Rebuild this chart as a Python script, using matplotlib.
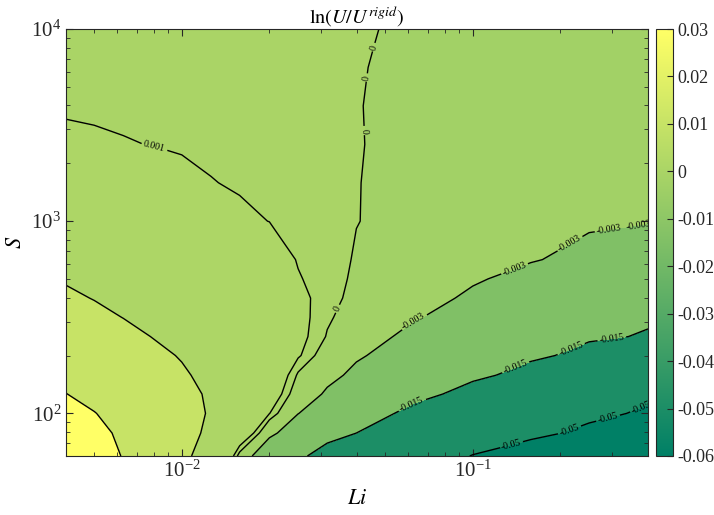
import matplotlib.pyplot as plt
import numpy as np
from matplotlib.colors import Normalize
from matplotlib.cm import ScalarMappable

plt.rcParams['font.family'] = ['Liberation Serif', 'DejaVu Serif']
plt.rcParams['mathtext.fontset'] = 'stix'
plt.rcParams['axes.unicode_minus'] = False

Li = [0.004, 0.005, 0.0063, 0.0079, 0.01, 0.0126, 0.0158, 0.02, 0.0251, 0.0316,
      0.0398, 0.0631, 0.1, 0.158, 0.251, 0.4]
S = [60, 79, 100, 126, 158, 200, 251, 316, 398, 501, 631, 1000, 1585, 2512, 3981, 6310, 10000]

# one row per S value (bottom to top), one column per Li value
lnU = [
    [0.0300, 0.0246, 0.0195, 0.0156, 0.0117, 0.0062, -0.0006, -0.0067, -0.0130, -0.0198, -0.0264, -0.0400, -0.0507, -0.0550, -0.0580, -0.0600],
    [0.0262, 0.0221, 0.0185, 0.0154, 0.0123, 0.0086, 0.0033, -0.0019, -0.0062, -0.0107, -0.0150, -0.0259, -0.0368, -0.0477, -0.0526, -0.0558],
    [0.0232, 0.0202, 0.0175, 0.0149, 0.0123, 0.0094, 0.0052, 0.00105, -0.0029, -0.0066, -0.0102, -0.0182, -0.0278, -0.0374, -0.0472, -0.0520],
    [0.0201, 0.0180, 0.0159, 0.0137, 0.0116, 0.0092, 0.0058, 0.0024, -0.0011, -0.0035, -0.0063, -0.0119, -0.0192, -0.0285, -0.0381, -0.0474],
    [0.0182, 0.0163, 0.0145, 0.0126, 0.0107, 0.0083, 0.0057, 0.0030, -0.0002, -0.0020, -0.0039, -0.0083, -0.0127, -0.0193, -0.0283, -0.0371],
    [0.0164, 0.0147, 0.0130, 0.0113, 0.0096, 0.0075, 0.0054, 0.0033, 0.0012, -0.0010, -0.0025, -0.0059, -0.0094, -0.0129, -0.0187, -0.0274],
    [0.0146, 0.0130, 0.0115, 0.0099, 0.0082, 0.0066, 0.0049, 0.0032, 0.0015, -0.0001, -0.0014, -0.0042, -0.0072, -0.0103, -0.0134, -0.0160],
    [0.0127, 0.0113, 0.0099, 0.0085, 0.0071, 0.0057, 0.0043, 0.0029, 0.0015, 0.0002, -0.0008, -0.0027, -0.0053, -0.0079, -0.0106, -0.0133],
    [0.0109, 0.0098, 0.0086, 0.0074, 0.0062, 0.0050, 0.0038, 0.0026, 0.0014, 0.0004, -0.0004, -0.0019, -0.0036, -0.0060, -0.0085, -0.0110],
    [0.0095, 0.0085, 0.0074, 0.0064, 0.0053, 0.0043, 0.0032, 0.0022, 0.0011, 0.0004, -0.0002, -0.0014, -0.0026, -0.0044, -0.0066, -0.0088],
    [0.0085, 0.0075, 0.0066, 0.0057, 0.0047, 0.0038, 0.0028, 0.0019, 0.0009, 0.0004, -0.0001, -0.0010, -0.0019, -0.0027, -0.0045, -0.0066],
    [0.0064, 0.0052, 0.0041, 0.0033, 0.0025, 0.0018, 0.00126, 0.00098, 0.00066, 0.00032, 0.00003, -0.00054, -0.0011, -0.0016, -0.0022, -0.0027],
    [0.0043, 0.0033, 0.0025, 0.0019, 0.0014, 0.00105, 0.00084, 0.00064, 0.00044, 0.00023, 0.00003, -0.00043, -0.00089, -0.00136, -0.00183, -0.0023],
    [0.0016, 0.00136, 0.00112, 0.00094, 0.00081, 0.00068, 0.00055, 0.00042, 0.0003, 0.00016, 0.00004, -0.0003, -0.00065, -0.0010, -0.00135, -0.0017],
    [0.0006, 0.00054, 0.00048, 0.00043, 0.00037, 0.00031, 0.00025, 0.0002, 0.00014, 0.00008, 0.00002, -0.00019, -0.00041, -0.00064, -0.00087, -0.0011],
    [0.0004, 0.00036, 0.00032, 0.00028, 0.00025, 0.00021, 0.00017, 0.00013, 0.00009, 0.00005, 0.00002, -0.0001, -0.00022, -0.00035, -0.00047, -0.0006],
    [0.0002, 0.00018, 0.00016, 0.00014, 0.00012, 0.0001, 0.00008, 0.00006, 0.00004, 0.00002, 0.00001, -0.00002, -0.00002, -0.00002, -0.00002, -0.00002],
]

levels = [-0.05, -0.015, -0.003, 0, 0.001, 0.01, 0.02]
labelled = [-0.05, -0.015, -0.003, 0, 0.001]
cmin, cmax = -0.06, 0.03
cticks = [-0.06, -0.05, -0.04, -0.03, -0.02, -0.01, 0, 0.01, 0.02, 0.03]

# where the inline labels sit (Li, S)
label_pos = [(0.063, 296), (0.14, 544), (0.218, 733), (0.294, 887), (0.373, 909),
             (0.062, 109), (0.142, 165), (0.22, 207), (0.30, 242),
             (0.134, 72), (0.21, 89), (0.288, 100), (0.373, 114),
             (0.0337, 354), (0.0428, 2950), (0.043, 5570), (0.0435, 8170),
             (0.008, 2390)]

cmap = plt.get_cmap('summer')
norm = Normalize(cmin, cmax)
fill_levels = [cmin] + levels + [cmax]
band_vals = [cmin] + levels[:-1] + [cmax]
band_colors = [cmap(norm(v)) for v in band_vals]

fig = plt.figure(figsize=(7.14, 5.15), dpi=100)
ax = fig.add_axes([66/714, 59/515, 582/714, 427/515])
cax = fig.add_axes([656/714, 59/515, 17/714, 427/515])

X, Y = np.meshgrid(Li, S)
Z = np.array(lnU)
ax.contourf(X, Y, Z, levels=fill_levels, colors=band_colors)
cs = ax.contour(X, Y, Z, levels=levels, colors='k', linewidths=1.0,
                linestyles='solid', negative_linestyles='solid')
ax.set_xscale('log')
ax.set_yscale('log')
ax.set_xlim(0.004, 0.4)
ax.set_ylim(60, 10000)

ax.clabel(cs, levels=labelled, fmt='%g', fontsize=7, inline=True,
          inline_spacing=2, manual=label_pos)

ax.tick_params(which='both', direction='in', top=True, right=True, colors='#262626',
               labelsize=15)
ax.tick_params(which='major', length=5)
ax.tick_params(which='minor', length=3)
for sp in ax.spines.values():
    sp.set_color('#262626')
    sp.set_linewidth(0.8)

ax.set_xlabel('$Li$', fontsize=16, labelpad=6)
ax.set_ylabel('$S$', fontsize=16, labelpad=4)
ax.set_title('$\\ln(U/U^{rigid})$', fontsize=14.5, pad=4)

cb = fig.colorbar(ScalarMappable(norm=norm, cmap=cmap), cax=cax)
cb.set_ticks(cticks)
cb.set_ticklabels(['%g' % t for t in cticks])
cax.tick_params(direction='in', length=4, labelsize=13, pad=3, colors='#262626')
cb.outline.set_edgecolor('#262626')
cb.outline.set_linewidth(0.8)

fig.savefig('out.png', dpi=100)
